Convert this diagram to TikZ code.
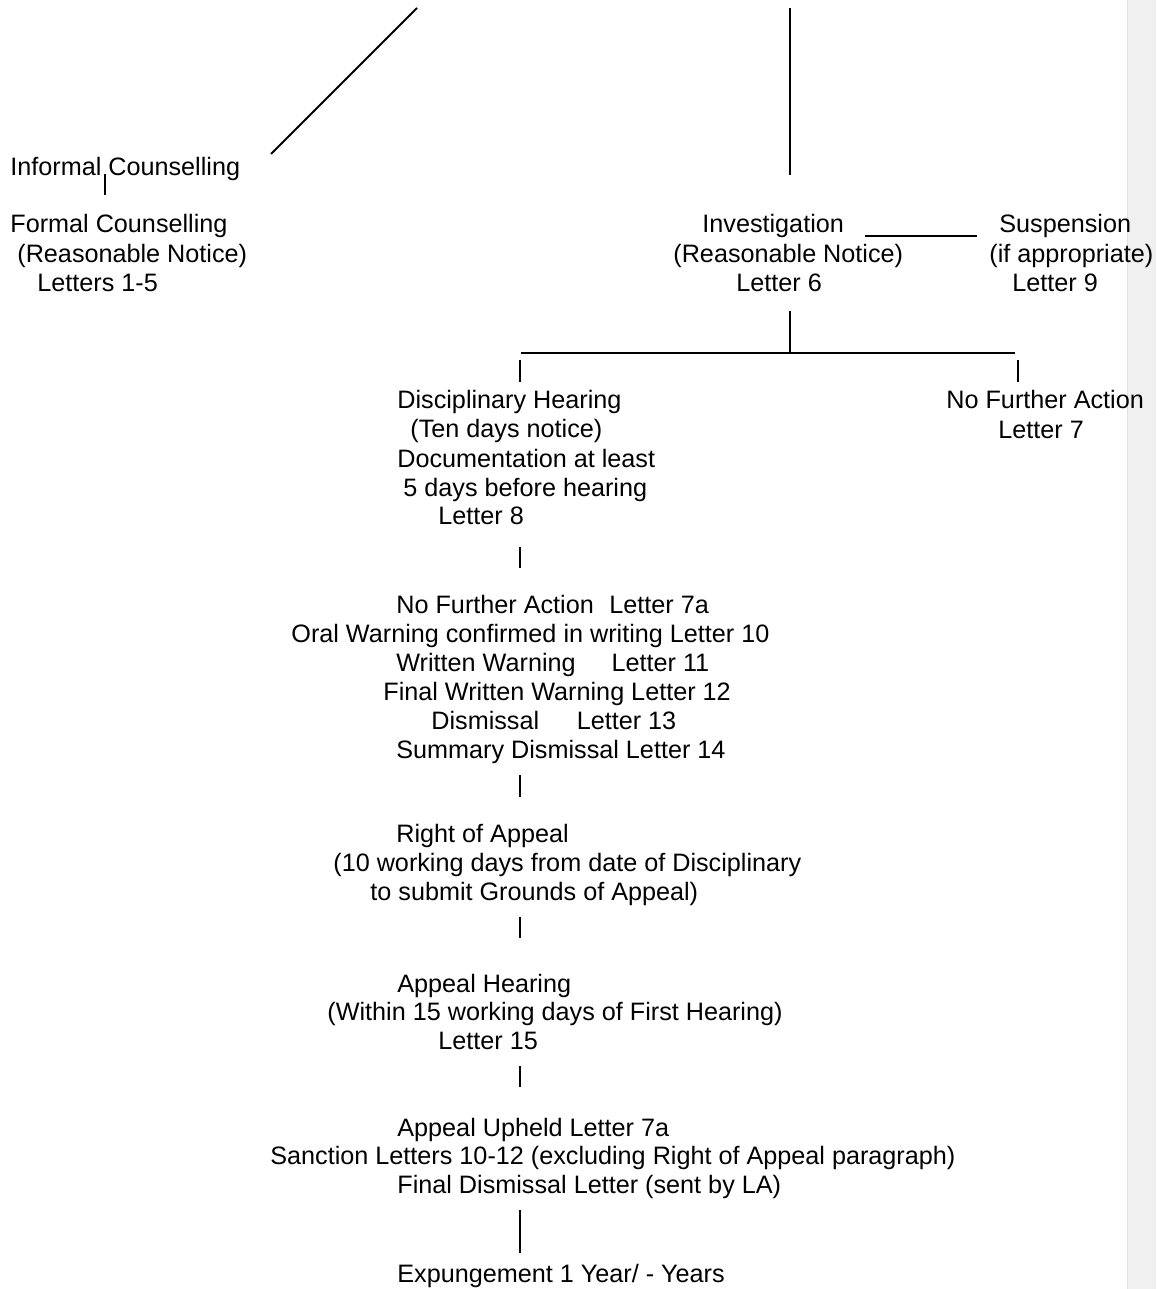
\documentclass[tikz,border=0pt]{standalone}
\usepackage{fontspec}
\setmainfont{Liberation Sans}
\usepackage{xcolor}
\definecolor{margingray}{HTML}{F0F0F0}
\definecolor{marginedge}{HTML}{E3E3E3}
\tikzset{
    txt/.style={anchor=base west, inner sep=0pt, font=\fontsize{12.6pt}{15pt}\selectfont},
    bar/.style={line width=0.65pt},
    rule/.style={line width=1pt}
}

\begin{document}
\begin{tikzpicture}[x=0.5pt,y=-0.5pt]
                \useasboundingbox (0,0) rectangle (1156,1289);
                \fill[margingray] (1127,0) rectangle (1156,1289);
                \draw[marginedge, line width=0.5pt] (1127,0) -- (1127,1289);

                \node[txt] (informal) at (10,176) {Informal Counselling};
                \node[txt] (formal) at (10,233) {Formal Counselling};
                \node[txt] (formalnote) at (17,263) {(Reasonable Notice)};
                \node[txt] (formalletter) at (37,292) {Letters 1-5};

                \node[txt] (invest) at (702,233) {Investigation};
                \node[txt] (investnote) at (673,263) {(Reasonable Notice)};
                \node[txt] (investletter) at (736,292) {Letter 6};
                \node[txt] (susp) at (999,233) {Suspension};
                \node[txt] (suspnote) at (989,263) {(if appropriate)};
                \node[txt] (suspletter) at (1012,292) {Letter 9};

                \node[txt] (hearing) at (397,408) {Disciplinary Hearing};
                \node[txt] (hearingnote) at (410,437) {(Ten days notice)};
                \node[txt] (hearingdocs) at (397,467) {Documentation at least};
                \node[txt] (hearingdays) at (403,496) {5 days before hearing};
                \node[txt] (hearingletter) at (438,524) {Letter 8};
                \node[txt] (nfa) at (946,408) {No Further Action};
                \node[txt] (nfaletter) at (998,438) {Letter 7};

                \node[txt] (outnfa) at (396,613) {No Further Action\hspace{7.75pt}Letter 7a};
                \node[txt] (outoral) at (291,642) {Oral Warning confirmed in writing Letter 10};
                \node[txt] (outwritten) at (396,671) {Written Warning\hspace{18pt}Letter 11};
                \node[txt] (outfinal) at (383,700) {Final Written Warning Letter 12};
                \node[txt] (outdismiss) at (431,729) {Dismissal\hspace{18.8pt}Letter 13};
                \node[txt] (outsummary) at (396,758) {Summary Dismissal Letter 14};

                \node[txt] (right) at (396,842) {Right of Appeal};
                \node[txt] (rightnote) at (333,871) {(10 working days from date of Disciplinary};
                \node[txt] (rightgrounds) at (370,900) {to submit Grounds of Appeal)};

                \node[txt] (appeal) at (397,992) {Appeal Hearing};
                \node[txt] (appealnote) at (327,1020) {(Within 15 working days of First Hearing)};
                \node[txt] (appealletter) at (438,1049) {Letter 15};

                \node[txt] (upheld) at (397,1136) {Appeal Upheld Letter 7a};
                \node[txt] (sanction) at (270,1164) {Sanction Letters 10-12 (excluding Right of Appeal paragraph)};
                \node[txt] (finaldismiss) at (397,1193) {Final Dismissal Letter (sent by LA)};
                \node[txt] (expunge) at (397,1282) {Expungement 1 Year/ - Years};

                \coordinate (diagtop) at (417,8);
                \coordinate (diagend) at (271,154);
                \coordinate (investtop) at (790,8);
                \coordinate (investend) at (790,175);
                \draw[rule] (diagtop) -- (diagend);
                \draw[rule] (investtop) -- (investend);

                \coordinate (informalup) at (105,174);
                \coordinate (informaldown) at (105,195);
                \draw[bar] (informalup) -- (informaldown);

                \coordinate (suspleft) at (865,236);
                \coordinate (suspright) at (977,236);
                \draw[bar] (suspleft) -- (suspright);

                \coordinate (splitup) at (790,311);
                \coordinate (splitmid) at (790,353);
                \coordinate (splitleft) at (521,353);
                \coordinate (splitright) at (1015,353);
                \draw[rule] (splitup) -- (splitmid);
                \draw[bar] (splitleft) -- (splitright);

                \coordinate (hearingup) at (520,360);
                \coordinate (hearingdown) at (520,382);
                \coordinate (nfaup) at (1018,360);
                \coordinate (nfadown) at (1018,382);
                \draw[bar] (hearingup) -- (hearingdown);
                \draw[bar] (nfaup) -- (nfadown);

                \coordinate (outup) at (520,547);
                \coordinate (outdown) at (520,568);
                \coordinate (rightup) at (520,775);
                \coordinate (rightdown) at (520,797);
                \coordinate (appealup) at (520,917);
                \coordinate (appealdown) at (520,938);
                \coordinate (upheldup) at (520,1066);
                \coordinate (uphelddown) at (520,1087);
                \coordinate (expungeup) at (520,1210);
                \coordinate (expungedown) at (520,1253);
                \draw[bar] (outup) -- (outdown);
                \draw[bar] (rightup) -- (rightdown);
                \draw[bar] (appealup) -- (appealdown);
                \draw[bar] (upheldup) -- (uphelddown);
                \draw[bar] (expungeup) -- (expungedown);
            \end{tikzpicture}
\end{document}
